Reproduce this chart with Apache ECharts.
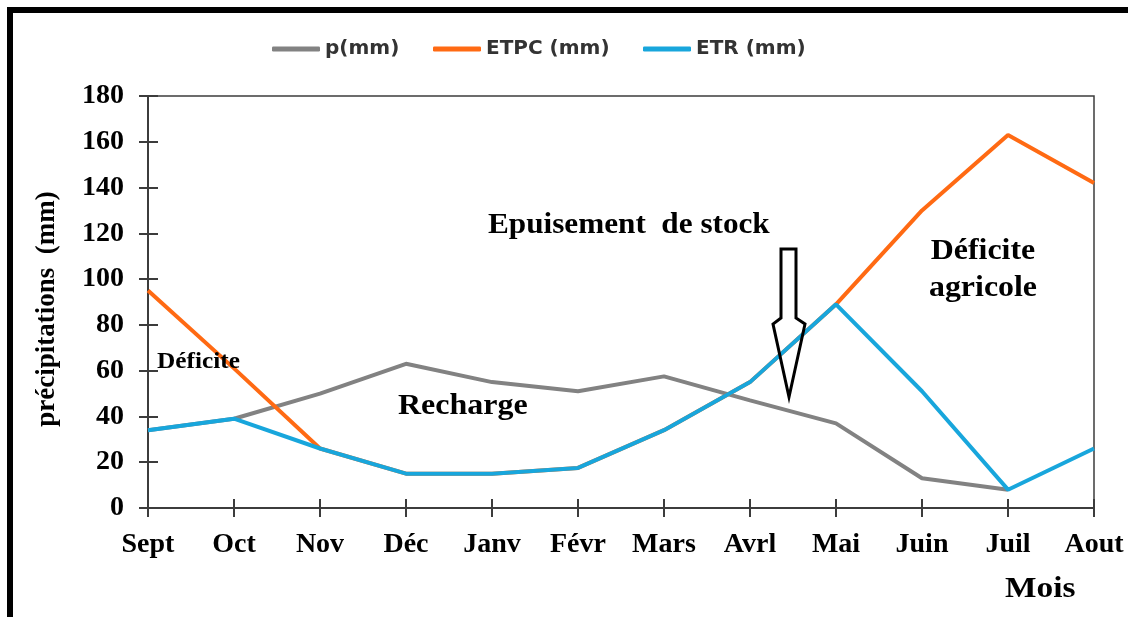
<!DOCTYPE html>
<html>
<head>
<meta charset="utf-8">
<script src="https://cdn.jsdelivr.net/npm/echarts@6/dist/echarts.min.js"></script>
<style>
  html, body { margin: 0; padding: 0; background: #fff; }
  #chart { width: 1128px; height: 617px; }
</style>
</head>
<body>
<div id="chart"></div>
<script>
// Monthly water balance (mm), hydrological year Sept -> Aout
const months = ['Sept', 'Oct', 'Nov', 'Déc', 'Janv', 'Févr', 'Mars', 'Avrl', 'Mai', 'Juin', 'Juil', 'Aout'];
const precipitation = [34, 39, 50, 63, 55, 51, 57.5, 47, 37, 13, 8, null];
const etpc = [95, 61, 26, 15, 15, 17.5, 34, 55, 89, 130, 163, 142];
const etr = [34, 39, 26, 15, 15, 17.5, 34, 55, 89, 51, 8, 26];
const yTicks = { min: 0, max: 180, step: 20 };

const serif = '"Liberation Serif", "Times New Roman", serif';
const sans = '"DejaVu Sans", Arial, sans-serif';
const axisColor = '#3c3c3c';
const colors = { p: '#828282', etpc: '#FF6A13', etr: '#18A6DC' };

const chart = echarts.init(document.getElementById('chart'), null, { renderer: 'canvas' });

function legendAt(name, left) {
  return {
    data: [name], left: left, top: 34, icon: 'roundRect',
    itemWidth: 48, itemHeight: 5, itemGap: 0,
    textStyle: { fontFamily: sans, fontWeight: 'bold', fontSize: 20, color: '#333' }
  };
}

// Annotation text, stretched slightly along x
function note(text, x, y, size, sx, align) {
  return {
    type: 'text', z: 50, x: x, y: y, scaleX: sx,
    style: { text: text, x: 0, y: 0, font: 'bold ' + size + 'px ' + serif, lineHeight: 37,
             fill: '#000', textAlign: align || 'left', textVerticalAlign: 'middle' }
  };
}

const labelFont = { fontFamily: serif, fontWeight: 'bold', fontSize: 28, color: '#000' };

chart.setOption({
  animation: false,
  backgroundColor: '#fff',
  legend: [
    legendAt('p(mm)', 267),
    legendAt('ETPC (mm)', 428),
    legendAt('ETR (mm)', 638)
  ],
  grid: {
    left: 148, right: 34, top: 96, bottom: 109,
    show: true, borderColor: axisColor, borderWidth: 1.5, backgroundColor: 'transparent'
  },
  xAxis: [{
    type: 'category', data: months, boundaryGap: false, position: 'bottom',
    axisLine: { lineStyle: { color: axisColor, width: 2 } },
    axisTick: { length: 9, lineStyle: { color: axisColor, width: 2 } },
    axisLabel: Object.assign({ margin: 23 }, labelFont),
    splitLine: { show: false }
  }, {
    type: 'category', data: months, boundaryGap: false, position: 'bottom',
    axisLine: { show: false },
    axisTick: { inside: true, length: 9, lineStyle: { color: axisColor, width: 2 } },
    axisLabel: { show: false },
    splitLine: { show: false }
  }],
  yAxis: [{
    type: 'value', min: yTicks.min, max: yTicks.max, interval: yTicks.step, position: 'left',
    axisLine: { show: true, lineStyle: { color: axisColor, width: 2 } },
    axisTick: { show: true, length: 9, lineStyle: { color: axisColor, width: 2 } },
    axisLabel: Object.assign({ margin: 24 }, labelFont),
    splitLine: { show: false }
  }, {
    type: 'value', min: yTicks.min, max: yTicks.max, interval: yTicks.step, position: 'left',
    axisLine: { show: false },
    axisTick: { show: true, inside: true, length: 10, lineStyle: { color: axisColor, width: 2 } },
    axisLabel: { show: false },
    splitLine: { show: false }
  }],
  series: [
    { name: 'p(mm)', type: 'line', data: precipitation, symbol: 'none',
      lineStyle: { color: colors.p, width: 4 }, itemStyle: { color: colors.p } },
    { name: 'ETPC (mm)', type: 'line', data: etpc, symbol: 'none',
      lineStyle: { color: colors.etpc, width: 4 }, itemStyle: { color: colors.etpc } },
    { name: 'ETR (mm)', type: 'line', data: etr, symbol: 'none',
      lineStyle: { color: colors.etr, width: 4 }, itemStyle: { color: colors.etr } }
  ],
  graphic: [
    // page frame (left and top bars)
    { type: 'rect', shape: { x: 7, y: 7, width: 6, height: 620 }, style: { fill: '#000' }, z: 100 },
    { type: 'rect', shape: { x: 7, y: 7, width: 1130, height: 6 }, style: { fill: '#000' }, z: 100 },
    // y-axis title
    { type: 'text', z: 50, x: 47, y: 309, rotation: Math.PI / 2,
      style: { text: 'précipitations  (mm)', x: 0, y: 0, font: 'bold 27px ' + serif, fill: '#000',
               textAlign: 'center', textVerticalAlign: 'middle' } },
    // annotations
    note('Epuisement  de stock', 488, 226, 29, 1.076),
    note('Déficite\nagricole', 983, 270, 29, 1.1, 'center'),
    note('Recharge', 398, 406, 30, 1.066),
    note('Déficite', 157, 362, 23, 1.1),
    note('Mois', 1005, 590, 29, 1.15),
    // hollow downward arrow
    { type: 'polygon', z: 60,
      shape: { points: [[781, 249], [796, 249], [796, 318], [805, 324], [789, 397], [773, 324], [781, 318]] },
      style: { fill: 'none', stroke: '#000', lineWidth: 3, lineJoin: 'miter' } }
  ]
});
</script>
</body>
</html>
